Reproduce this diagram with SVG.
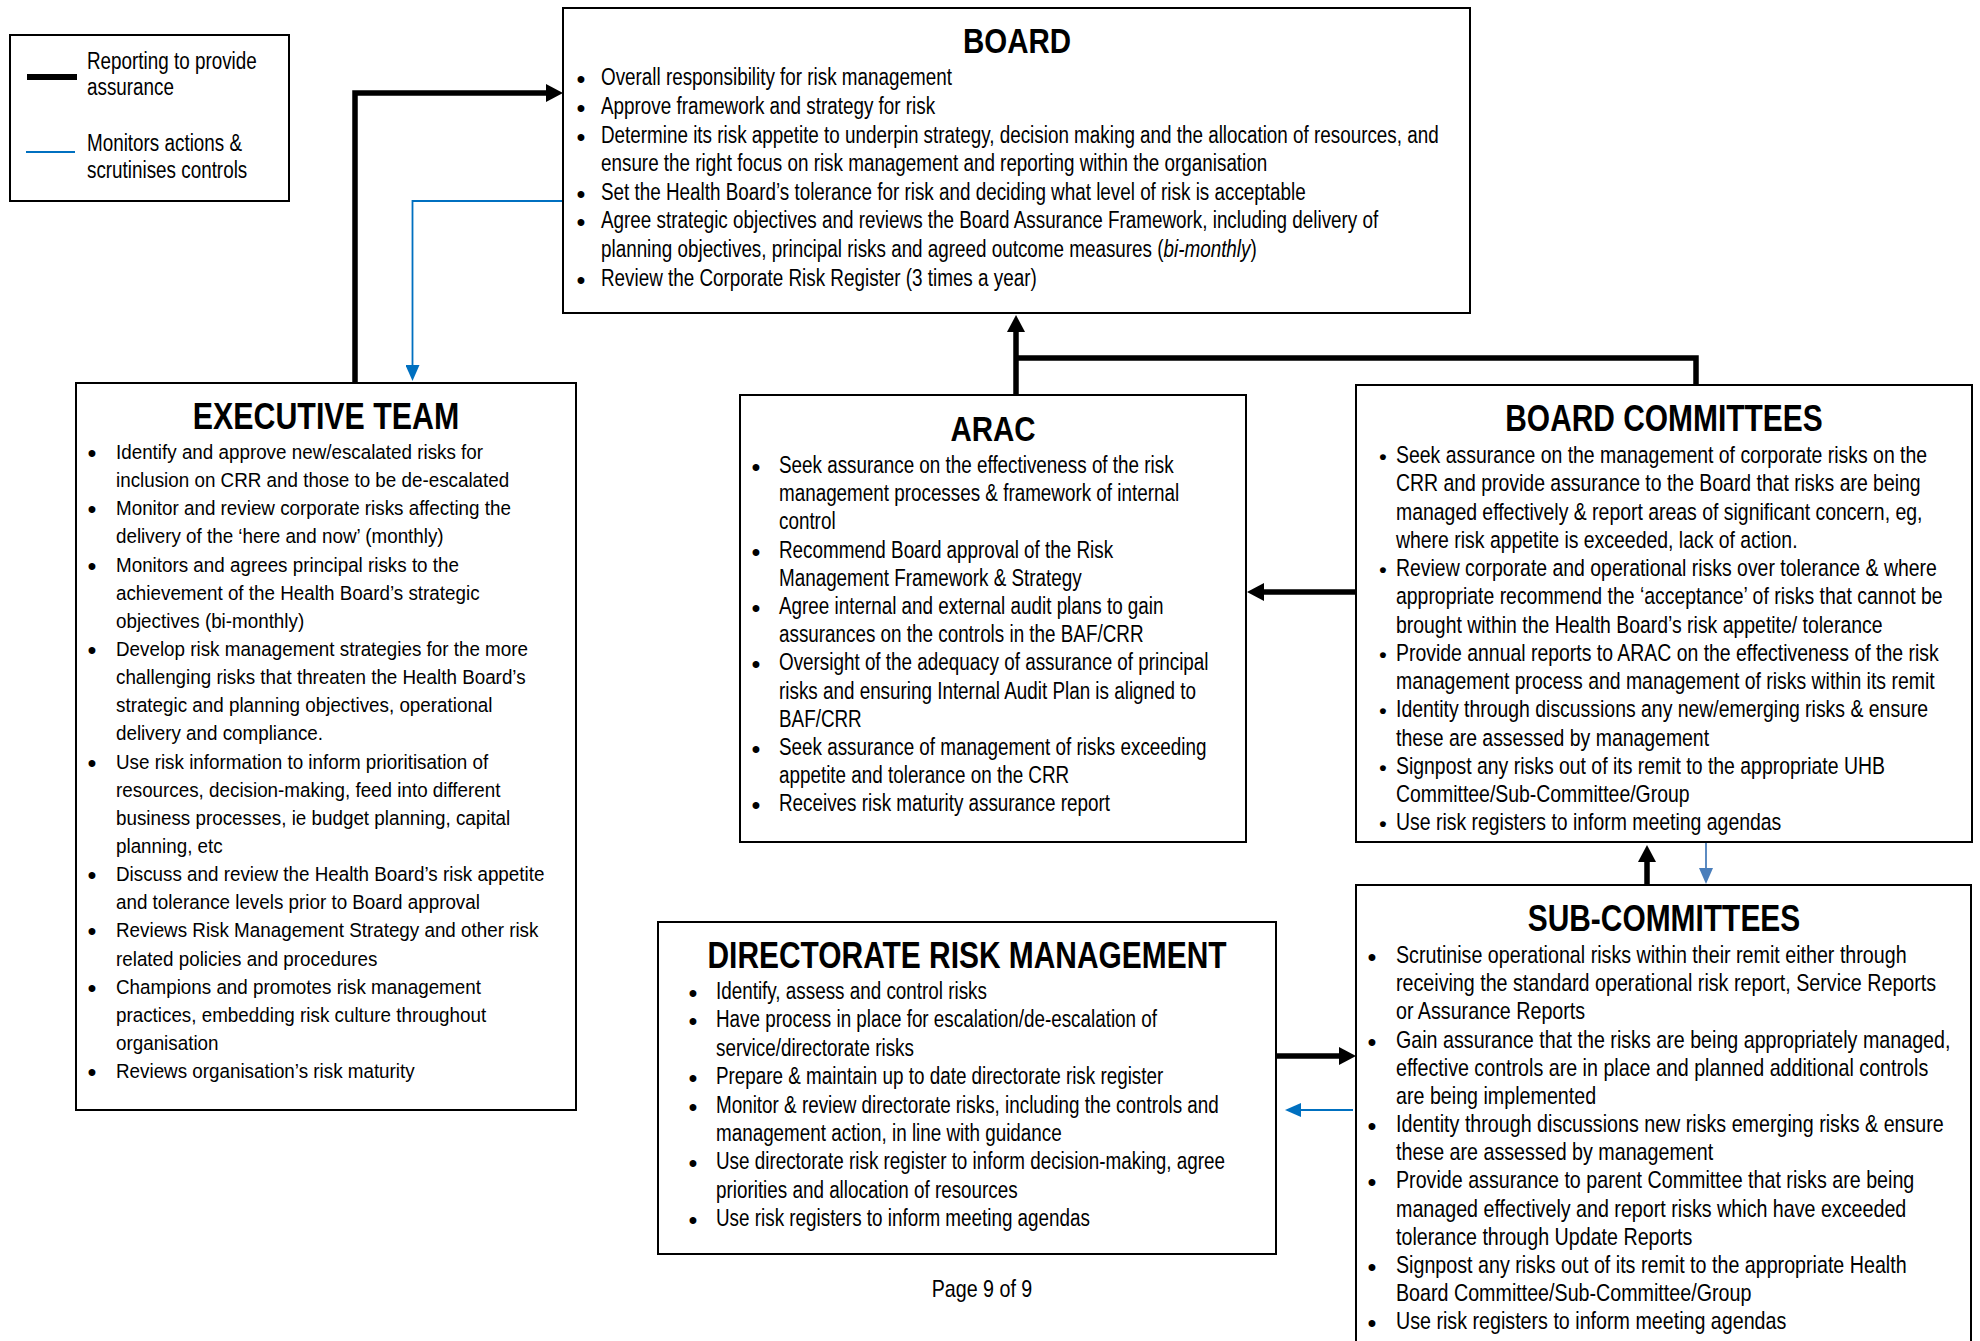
<svg xmlns="http://www.w3.org/2000/svg" width="1980" height="1341" viewBox="0 0 1980 1341">
<defs>
<style>
.box{fill:#fff;stroke:#000;stroke-width:2}
text{font-family:"Liberation Sans",Arial,sans-serif;fill:#000}
.t{font-weight:bold;text-anchor:middle}
.bul text{font-size:24px;font-weight:bold;text-anchor:middle}
.bul.sm text{font-size:21px}
.blk{fill:none;stroke:#000;stroke-width:5.5;stroke-linejoin:miter}
.blu{fill:none;stroke:#0070C0;stroke-width:1.8}
</style>
<marker id="ab" markerUnits="userSpaceOnUse" markerWidth="17" markerHeight="18" refX="5" refY="9" orient="auto">
<path d="M0,0 L17,9 L0,18 Z" fill="#000"/>
</marker>
<marker id="au" markerUnits="userSpaceOnUse" markerWidth="16" markerHeight="14" refX="4" refY="7" orient="auto">
<path d="M0,0 L16,7 L0,14 Z" fill="#0070C0"/>
</marker>
<marker id="au2" markerUnits="userSpaceOnUse" markerWidth="16" markerHeight="14" refX="4" refY="7" orient="auto">
<path d="M0,0 L16,7 L0,14 Z" fill="#4A7EBB"/>
</marker>
</defs>
<rect width="1980" height="1341" fill="#fff"/>

<g id="legend">
<rect class="box" x="10" y="35" width="279" height="166"/>
<line x1="27" y1="77" x2="77" y2="77" stroke="#000" stroke-width="6"/>
<line x1="26" y1="152" x2="75" y2="152" stroke="#0070C0" stroke-width="1.8"/>
<g transform="translate(87,0) scale(0.82,1)" font-size="23">
<text x="0" y="69">Reporting to provide</text>
<text x="0" y="95">assurance</text>
<text x="0" y="151">Monitors actions &amp;</text>
<text x="0" y="178">scrutinises controls</text>
</g>
</g>

<g id="connectors">
<path class="blk" d="M355,387 V93 H551" marker-end="url(#ab)"/>
<path class="blk" d="M1016,395 V327" marker-end="url(#ab)"/>
<path class="blk" d="M1016,358 H1696 V386"/>
<path class="blk" d="M1356,592 H1259" marker-end="url(#ab)"/>
<path class="blk" d="M1647,885 V857" marker-end="url(#ab)"/>
<path class="blk" d="M1276,1056 H1344" marker-end="url(#ab)"/>
<path class="blu" d="M563,201 H412.5 V369" marker-end="url(#au)"/>
<path class="blu" d="M1706,843 V872" style="stroke:#4A7EBB" marker-end="url(#au2)"/>
<path class="blu" d="M1353,1110 H1297" marker-end="url(#au)"/>
</g>

<g id="board">
<rect class="box" x="563" y="8" width="907" height="305"/>
<g transform="translate(601,0) scale(0.82,1)" font-size="23">
<text class="t" x="507.3" y="53" font-size="36">BOARD</text>
<text x="0" y="85">Overall responsibility for risk management</text>
<text x="0" y="114">Approve framework and strategy for risk</text>
<text x="0" y="143">Determine its risk appetite to underpin strategy, decision making and the allocation of resources, and</text>
<text x="0" y="171">ensure the right focus on risk management and reporting within the organisation</text>
<text x="0" y="200">Set the Health Board’s tolerance for risk and deciding what level of risk is acceptable</text>
<text x="0" y="228">Agree strategic objectives and reviews the Board Assurance Framework, including delivery of</text>
<text x="0" y="257">planning objectives, principal risks and agreed outcome measures (<tspan font-style="italic">bi-monthly</tspan>)</text>
<text x="0" y="286">Review the Corporate Risk Register (3 times a year)</text>
</g>
<g class="bul">
<text x="581" y="87">•</text><text x="581" y="116">•</text><text x="581" y="145">•</text><text x="581" y="202">•</text><text x="581" y="230">•</text><text x="581" y="288">•</text>
</g>
</g>

<g id="executive-team">
<rect class="box" x="76" y="383" width="500" height="727"/>
<g transform="translate(326,0) scale(0.82,1)">
<text class="t" x="0" y="429" font-size="37">EXECUTIVE TEAM</text>
</g>
<g transform="translate(116,0) scale(0.965,1)" font-size="19.5">
<text x="0" y="459">Identify and approve new/escalated risks for</text>
<text x="0" y="487">inclusion on CRR and those to be de-escalated</text>
<text x="0" y="515">Monitor and review corporate risks affecting the</text>
<text x="0" y="543">delivery of the ‘here and now’ (monthly)</text>
<text x="0" y="572">Monitors and agrees principal risks to the</text>
<text x="0" y="600">achievement of the Health Board’s strategic</text>
<text x="0" y="628">objectives (bi-monthly)</text>
<text x="0" y="656">Develop risk management strategies for the more</text>
<text x="0" y="684">challenging risks that threaten the Health Board’s</text>
<text x="0" y="712">strategic and planning objectives, operational</text>
<text x="0" y="740">delivery and compliance.</text>
<text x="0" y="769">Use risk information to inform prioritisation of</text>
<text x="0" y="797">resources, decision-making, feed into different</text>
<text x="0" y="825">business processes, ie budget planning, capital</text>
<text x="0" y="853">planning, etc</text>
<text x="0" y="881">Discuss and review the Health Board’s risk appetite</text>
<text x="0" y="909">and tolerance levels prior to Board approval</text>
<text x="0" y="937">Reviews Risk Management Strategy and other risk</text>
<text x="0" y="966">related policies and procedures</text>
<text x="0" y="994">Champions and promotes risk management</text>
<text x="0" y="1022">practices, embedding risk culture throughout</text>
<text x="0" y="1050">organisation</text>
<text x="0" y="1078">Reviews organisation’s risk maturity</text>
</g>
<g class="bul">
<text x="92" y="461">•</text><text x="92" y="517">•</text><text x="92" y="574">•</text><text x="92" y="658">•</text><text x="92" y="771">•</text><text x="92" y="883">•</text><text x="92" y="939">•</text><text x="92" y="996">•</text><text x="92" y="1080">•</text>
</g>
</g>

<g id="arac">
<rect class="box" x="740" y="395" width="506" height="447"/>
<g transform="translate(779,0) scale(0.82,1)" font-size="23">
<text class="t" x="261" y="441" font-size="36">ARAC</text>
<text x="0" y="473">Seek assurance on the effectiveness of the risk</text>
<text x="0" y="501">management processes &amp; framework of internal</text>
<text x="0" y="529">control</text>
<text x="0" y="558">Recommend Board approval of the Risk</text>
<text x="0" y="586">Management Framework &amp; Strategy</text>
<text x="0" y="614">Agree internal and external audit plans to gain</text>
<text x="0" y="642">assurances on the controls in the BAF/CRR</text>
<text x="0" y="670">Oversight of the adequacy of assurance of principal</text>
<text x="0" y="699">risks and ensuring Internal Audit Plan is aligned to</text>
<text x="0" y="727">BAF/CRR</text>
<text x="0" y="755">Seek assurance of management of risks exceeding</text>
<text x="0" y="783">appetite and tolerance on the CRR</text>
<text x="0" y="811">Receives risk maturity assurance report</text>
</g>
<g class="bul">
<text x="756" y="475">•</text><text x="756" y="560">•</text><text x="756" y="616">•</text><text x="756" y="672">•</text><text x="756" y="757">•</text><text x="756" y="813">•</text>
</g>
</g>

<g id="board-committees">
<rect class="box" x="1356" y="385" width="616" height="457"/>
<g transform="translate(1396,0) scale(0.82,1)" font-size="23.7">
<text class="t" x="326.8" y="431" font-size="36.5">BOARD COMMITTEES</text>
<text x="0" y="463">Seek assurance on the management of corporate risks on the</text>
<text x="0" y="491">CRR and provide assurance to the Board that risks are being</text>
<text x="0" y="520">managed effectively &amp; report areas of significant concern, eg,</text>
<text x="0" y="548">where risk appetite is exceeded, lack of action.</text>
<text x="0" y="576">Review corporate and operational risks over tolerance &amp; where</text>
<text x="0" y="604">appropriate recommend the ‘acceptance’ of risks that cannot be</text>
<text x="0" y="633">brought within the Health Board’s risk appetite/ tolerance</text>
<text x="0" y="661">Provide annual reports to ARAC on the effectiveness of the risk</text>
<text x="0" y="689">management process and management of risks within its remit</text>
<text x="0" y="717">Identity through discussions any new/emerging risks &amp; ensure</text>
<text x="0" y="746">these are assessed by management</text>
<text x="0" y="774">Signpost any risks out of its remit to the appropriate UHB</text>
<text x="0" y="802">Committee/Sub-Committee/Group</text>
<text x="0" y="830">Use risk registers to inform meeting agendas</text>
</g>
<g class="bul sm">
<text x="1383" y="464">•</text><text x="1383" y="577">•</text><text x="1383" y="662">•</text><text x="1383" y="718">•</text><text x="1383" y="775">•</text><text x="1383" y="831">•</text>
</g>
</g>

<g id="sub-committees">
<rect class="box" x="1356" y="885" width="615" height="470"/>
<g transform="translate(1396,0) scale(0.82,1)" font-size="24">
<text class="t" x="326.8" y="931" font-size="36.5">SUB-COMMITTEES</text>
<text x="0" y="963">Scrutinise operational risks within their remit either through</text>
<text x="0" y="991">receiving the standard operational risk report, Service Reports</text>
<text x="0" y="1019">or Assurance Reports</text>
<text x="0" y="1048">Gain assurance that the risks are being appropriately managed,</text>
<text x="0" y="1076">effective controls are in place and planned additional controls</text>
<text x="0" y="1104">are being implemented</text>
<text x="0" y="1132">Identity through discussions new risks emerging risks &amp; ensure</text>
<text x="0" y="1160">these are assessed by management</text>
<text x="0" y="1188">Provide assurance to parent Committee that risks are being</text>
<text x="0" y="1217">managed effectively and report risks which have exceeded</text>
<text x="0" y="1245">tolerance through Update Reports</text>
<text x="0" y="1273">Signpost any risks out of its remit to the appropriate Health</text>
<text x="0" y="1301">Board Committee/Sub-Committee/Group</text>
<text x="0" y="1329">Use risk registers to inform meeting agendas</text>
</g>
<g class="bul">
<text x="1372" y="965">•</text><text x="1372" y="1050">•</text><text x="1372" y="1134">•</text><text x="1372" y="1190">•</text><text x="1372" y="1275">•</text><text x="1372" y="1331">•</text>
</g>
</g>

<g id="directorate-risk-management">
<rect class="box" x="658" y="922" width="618" height="332"/>
<g transform="translate(716,0) scale(0.82,1)" font-size="23">
<text class="t" x="306.1" y="968" font-size="36.5">DIRECTORATE RISK MANAGEMENT</text>
<text x="0" y="999">Identify, assess and control risks</text>
<text x="0" y="1027">Have process in place for escalation/de-escalation of</text>
<text x="0" y="1056">service/directorate risks</text>
<text x="0" y="1084">Prepare &amp; maintain up to date directorate risk register</text>
<text x="0" y="1113">Monitor &amp; review directorate risks, including the controls and</text>
<text x="0" y="1141">management action, in line with guidance</text>
<text x="0" y="1169">Use directorate risk register to inform decision-making, agree</text>
<text x="0" y="1198">priorities and allocation of resources</text>
<text x="0" y="1226">Use risk registers to inform meeting agendas</text>
</g>
<g class="bul">
<text x="693" y="1001">•</text><text x="693" y="1029">•</text><text x="693" y="1086">•</text><text x="693" y="1115">•</text><text x="693" y="1171">•</text><text x="693" y="1228">•</text>
</g>
</g>

<g id="page-number" transform="translate(982,0) scale(0.82,1)">
<text x="0" y="1297" font-size="24" text-anchor="middle">Page 9 of 9</text>
</g>
</svg>
